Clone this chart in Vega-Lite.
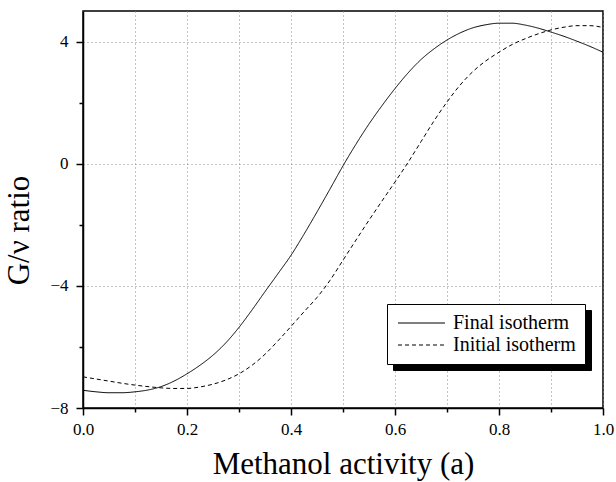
{
  "$schema": "https://vega.github.io/schema/vega-lite/v6.json",
  "width": 520,
  "height": 397,
  "autosize": "none",
  "padding": {"left": 83, "top": 11, "right": 13, "bottom": 74},
  "background": "white",
  "config": {
    "font": "Liberation Serif",
    "view": {"stroke": "black", "strokeWidth": 1.5},
    "axis": {
      "domainColor": "black",
      "domainWidth": 1.5,
      "tickColor": "black",
      "tickWidth": 1.5,
      "labelFont": "Liberation Serif",
      "labelFontSize": 17,
      "labelColor": "black",
      "titleFont": "Liberation Serif",
      "titleFontSize": 31,
      "titleFontWeight": "normal",
      "titleColor": "black",
      "gridColor": "#888888",
      "gridDash": [1, 3],
      "gridWidth": 1
    },
    "legend": {
      "orient": "none",
      "padding": 9,
      "labelFont": "Liberation Serif",
      "labelFontSize": 20,
      "labelOffset": 37,
      "symbolType": "M-1,0H4.875",
      "symbolSize": 256,
      "symbolStrokeWidth": 1,
      "rowPadding": 2
    }
  },
  "data": {
    "values": [
      {"a": 0.0, "v": -7.42, "series": "Final isotherm"},
      {"a": 0.025, "v": -7.47, "series": "Final isotherm"},
      {"a": 0.05, "v": -7.5, "series": "Final isotherm"},
      {"a": 0.075, "v": -7.5, "series": "Final isotherm"},
      {"a": 0.1, "v": -7.47, "series": "Final isotherm"},
      {"a": 0.125, "v": -7.41, "series": "Final isotherm"},
      {"a": 0.15, "v": -7.3, "series": "Final isotherm"},
      {"a": 0.175, "v": -7.12, "series": "Final isotherm"},
      {"a": 0.2, "v": -6.88, "series": "Final isotherm"},
      {"a": 0.225, "v": -6.6, "series": "Final isotherm"},
      {"a": 0.25, "v": -6.27, "series": "Final isotherm"},
      {"a": 0.275, "v": -5.86, "series": "Final isotherm"},
      {"a": 0.3, "v": -5.36, "series": "Final isotherm"},
      {"a": 0.325, "v": -4.79, "series": "Final isotherm"},
      {"a": 0.35, "v": -4.19, "series": "Final isotherm"},
      {"a": 0.375, "v": -3.6, "series": "Final isotherm"},
      {"a": 0.4, "v": -3.0, "series": "Final isotherm"},
      {"a": 0.425, "v": -2.31, "series": "Final isotherm"},
      {"a": 0.45, "v": -1.58, "series": "Final isotherm"},
      {"a": 0.475, "v": -0.83, "series": "Final isotherm"},
      {"a": 0.5, "v": -0.07, "series": "Final isotherm"},
      {"a": 0.525, "v": 0.64, "series": "Final isotherm"},
      {"a": 0.55, "v": 1.3, "series": "Final isotherm"},
      {"a": 0.575, "v": 1.9, "series": "Final isotherm"},
      {"a": 0.6, "v": 2.46, "series": "Final isotherm"},
      {"a": 0.625, "v": 2.97, "series": "Final isotherm"},
      {"a": 0.65, "v": 3.41, "series": "Final isotherm"},
      {"a": 0.675, "v": 3.76, "series": "Final isotherm"},
      {"a": 0.7, "v": 4.05, "series": "Final isotherm"},
      {"a": 0.725, "v": 4.28, "series": "Final isotherm"},
      {"a": 0.75, "v": 4.45, "series": "Final isotherm"},
      {"a": 0.775, "v": 4.55, "series": "Final isotherm"},
      {"a": 0.8, "v": 4.6, "series": "Final isotherm"},
      {"a": 0.825, "v": 4.6, "series": "Final isotherm"},
      {"a": 0.85, "v": 4.54, "series": "Final isotherm"},
      {"a": 0.875, "v": 4.44, "series": "Final isotherm"},
      {"a": 0.9, "v": 4.31, "series": "Final isotherm"},
      {"a": 0.925, "v": 4.17, "series": "Final isotherm"},
      {"a": 0.95, "v": 4.01, "series": "Final isotherm"},
      {"a": 0.975, "v": 3.84, "series": "Final isotherm"},
      {"a": 1.0, "v": 3.65, "series": "Final isotherm"},
      {"a": 0.0, "v": -6.98, "series": "Initial isotherm"},
      {"a": 0.025, "v": -7.05, "series": "Initial isotherm"},
      {"a": 0.05, "v": -7.12, "series": "Initial isotherm"},
      {"a": 0.075, "v": -7.19, "series": "Initial isotherm"},
      {"a": 0.1, "v": -7.25, "series": "Initial isotherm"},
      {"a": 0.125, "v": -7.3, "series": "Initial isotherm"},
      {"a": 0.15, "v": -7.34, "series": "Initial isotherm"},
      {"a": 0.175, "v": -7.36, "series": "Initial isotherm"},
      {"a": 0.2, "v": -7.36, "series": "Initial isotherm"},
      {"a": 0.225, "v": -7.31, "series": "Initial isotherm"},
      {"a": 0.25, "v": -7.22, "series": "Initial isotherm"},
      {"a": 0.275, "v": -7.08, "series": "Initial isotherm"},
      {"a": 0.3, "v": -6.88, "series": "Initial isotherm"},
      {"a": 0.325, "v": -6.6, "series": "Initial isotherm"},
      {"a": 0.35, "v": -6.24, "series": "Initial isotherm"},
      {"a": 0.375, "v": -5.8, "series": "Initial isotherm"},
      {"a": 0.4, "v": -5.33, "series": "Initial isotherm"},
      {"a": 0.425, "v": -4.85, "series": "Initial isotherm"},
      {"a": 0.45, "v": -4.38, "series": "Initial isotherm"},
      {"a": 0.475, "v": -3.82, "series": "Initial isotherm"},
      {"a": 0.5, "v": -3.16, "series": "Initial isotherm"},
      {"a": 0.525, "v": -2.5, "series": "Initial isotherm"},
      {"a": 0.55, "v": -1.85, "series": "Initial isotherm"},
      {"a": 0.575, "v": -1.22, "series": "Initial isotherm"},
      {"a": 0.6, "v": -0.6, "series": "Initial isotherm"},
      {"a": 0.625, "v": 0.04, "series": "Initial isotherm"},
      {"a": 0.65, "v": 0.72, "series": "Initial isotherm"},
      {"a": 0.675, "v": 1.4, "series": "Initial isotherm"},
      {"a": 0.7, "v": 2.02, "series": "Initial isotherm"},
      {"a": 0.725, "v": 2.57, "series": "Initial isotherm"},
      {"a": 0.75, "v": 3.02, "series": "Initial isotherm"},
      {"a": 0.775, "v": 3.37, "series": "Initial isotherm"},
      {"a": 0.8, "v": 3.65, "series": "Initial isotherm"},
      {"a": 0.825, "v": 3.9, "series": "Initial isotherm"},
      {"a": 0.85, "v": 4.09, "series": "Initial isotherm"},
      {"a": 0.875, "v": 4.25, "series": "Initial isotherm"},
      {"a": 0.9, "v": 4.38, "series": "Initial isotherm"},
      {"a": 0.925, "v": 4.47, "series": "Initial isotherm"},
      {"a": 0.95, "v": 4.52, "series": "Initial isotherm"},
      {"a": 0.975, "v": 4.52, "series": "Initial isotherm"},
      {"a": 1.0, "v": 4.46, "series": "Initial isotherm"}
    ]
  },
  "mark": {"type": "line", "strokeWidth": 1, "interpolate": "monotone", "clip": true},
  "encoding": {
    "x": {
      "field": "a",
      "type": "quantitative",
      "scale": {"domain": [0, 1], "nice": false, "zero": false},
      "axis": {
        "title": "Methanol activity (a)",
        "values": [0, 0.1, 0.2, 0.3, 0.4, 0.5, 0.6, 0.7, 0.8, 0.9, 1.0],
        "labelExpr": "round(datum.value*10) % 2 === 0 ? format(datum.value, '.1f') : ''",
        "tickSize": {"condition": {"test": "round(datum.value*10) % 2 === 0", "value": 7}, "value": 4},
        "labelPadding": 6,
        "labelFlush": false,
        "titlePadding": 12,
        "grid": true
      }
    },
    "y": {
      "field": "v",
      "type": "quantitative",
      "scale": {"domain": [-8, 5], "nice": false, "zero": false},
      "axis": {
        "title": "G/ν ratio",
        "values": [-8, -6, -4, -2, 0, 2, 4],
        "labelExpr": "datum.value % 4 === 0 ? format(datum.value, 'd') : ''",
        "tickSize": {"condition": {"test": "datum.value % 4 === 0", "value": 7}, "value": 4},
        "gridOpacity": {"condition": {"test": "datum.value % 4 === 0", "value": 1}, "value": 0},
        "labelPadding": 8,
        "labelFlush": false,
        "titlePadding": 14,
        "titleY": 219,
        "grid": true
      }
    },
    "color": {
      "field": "series",
      "type": "nominal",
      "scale": {"domain": ["Initial isotherm", "Final isotherm"], "range": ["black", "black"]},
      "legend": {
        "title": null,
        "legendX": 310,
        "legendY": 299,
        "zindex": 1,
        "fillColor": "black",
        "strokeColor": "black",
        "labelExpr": "''",
        "labelOffset": 160,
        "symbolStrokeColor": "black"
      }
    },
    "strokeDash": {
      "field": "series",
      "type": "nominal",
      "scale": {"domain": ["Final isotherm", "Initial isotherm"], "range": [[1, 0], [4, 3]]},
      "legend": {
        "title": null,
        "legendX": 304,
        "legendY": 293,
        "zindex": 2,
        "fillColor": "white",
        "strokeColor": "black",
        "labelColor": "black",
        "symbolStrokeColor": "black"
      }
    }
  }
}
